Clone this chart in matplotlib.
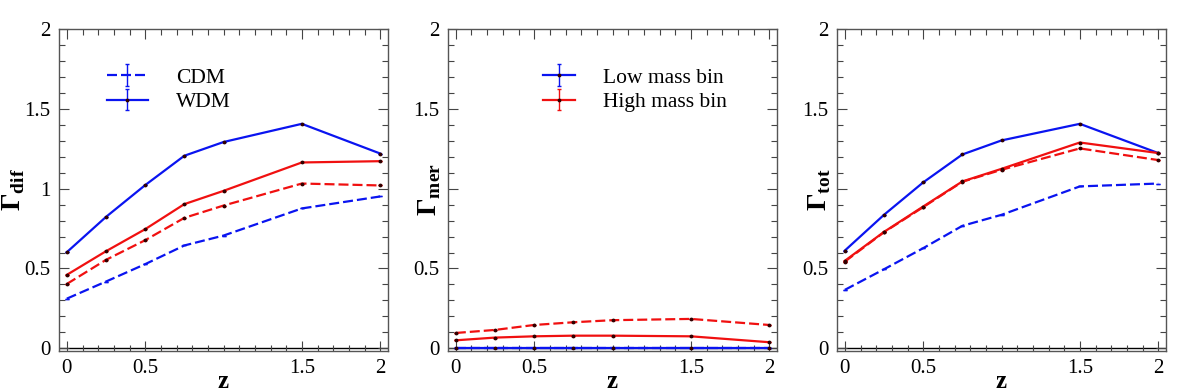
import numpy as np
import matplotlib
matplotlib.use("Agg")
import matplotlib.pyplot as plt
from matplotlib.ticker import MultipleLocator, FixedLocator, FixedFormatter

plt.rcParams['font.family'] = ['Liberation Serif', 'DejaVu Serif']
plt.rcParams['mathtext.fontset'] = 'custom'
plt.rcParams['mathtext.rm'] = 'Liberation Serif'
plt.rcParams['mathtext.bf'] = 'Liberation Serif:bold'

z = [0, 0.25, 0.5, 0.75, 1.0, 1.5, 2.0]

# Gamma_dif
dif_low_cdm = [0.311, 0.418, 0.527, 0.644, 0.706, 0.876, 0.951]
dif_low_wdm = [0.602, 0.823, 1.022, 1.206, 1.292, 1.406, 1.220]
dif_high_cdm = [0.403, 0.554, 0.677, 0.817, 0.894, 1.032, 1.020]
dif_high_wdm = [0.460, 0.608, 0.746, 0.903, 0.986, 1.164, 1.172]

# Gamma_mer
mer_low_cdm = [0.0, 0.0, 0.0, 0.0, 0.0, 0.0, 0.0]
mer_low_wdm = [0.002, 0.002, 0.002, 0.002, 0.002, 0.002, 0.002]
mer_high_cdm = [0.096, 0.115, 0.146, 0.163, 0.176, 0.184, 0.146]
mer_high_wdm = [0.050, 0.067, 0.075, 0.079, 0.079, 0.075, 0.038]

# Gamma_tot
tot_low_cdm = [0.366, 0.495, 0.627, 0.767, 0.836, 1.014, 1.032]
tot_low_wdm = [0.612, 0.836, 1.039, 1.214, 1.302, 1.406, 1.223]
tot_high_cdm = [0.543, 0.727, 0.884, 1.043, 1.118, 1.252, 1.179]
tot_high_wdm = [0.548, 0.729, 0.888, 1.045, 1.124, 1.289, 1.223]

xtick_vals = [0, 0.5, 1.5, 2]
xtick_labels = ['0', '0.5', '1.5', '2']

panels = [
    (r'$\mathbf{\Gamma}_{\mathbf{dif}}$', dif_low_cdm, dif_low_wdm, dif_high_cdm, dif_high_wdm),
    (r'$\mathbf{\Gamma}_{\mathbf{mer}}$', mer_low_cdm, mer_low_wdm, mer_high_cdm, mer_high_wdm),
    (r'$\mathbf{\Gamma}_{\mathbf{tot}}$', tot_low_cdm, tot_low_wdm, tot_high_cdm, tot_high_wdm),
]

fig = plt.figure(figsize=(11.96, 3.92), dpi=100)
lefts = [59, 448, 837]
label_x = [-0.098, -0.014, -0.012]
W, H = 1196.0, 392.0

blue = '#0a14f0'
red = '#f01010'
dashes = (4.5, 1.8)

for i, (ylab, lc, lw_, hc, hw) in enumerate(panels):
    ax = fig.add_axes([lefts[i] / W, 1 - 351 / H, 329 / W, 322 / H])
    ax.axhline(0, color='k', lw=1.0, zorder=1)
    zerr = np.zeros(len(z))
    kw = dict(yerr=zerr, capsize=1.5, elinewidth=1, lw=1.6, marker='.', ms=3.5, mfc='#300000', mec='#300000')
    e1 = ax.errorbar(z, lc, color=blue, dashes=dashes, **dict(kw, marker='None'))
    e2 = ax.errorbar(z, lw_, color=blue, **kw)
    e3 = ax.errorbar(z, hc, color=red, dashes=dashes, **kw)
    e4 = ax.errorbar(z, hw, color=red, **kw)
    for e in (e1, e2, e3, e4):
        for c in e[1]:
            c.set_markeredgewidth(1)

    ax.set_xlim(-0.05, 2.05)
    ax.set_ylim(-0.017, 2.0)
    ax.xaxis.set_major_locator(FixedLocator(xtick_vals))
    ax.xaxis.set_major_formatter(FixedFormatter(xtick_labels))
    ax.xaxis.set_minor_locator(MultipleLocator(0.1))
    ax.set_yticks([0, 0.5, 1, 1.5, 2])
    if i == 0:
        ax.set_yticklabels(['0', '0.5', '1', '1.5', '2'])
    else:
        ax.set_yticklabels(['0', '0.5', '', '1.5', '2'])
    ax.yaxis.set_minor_locator(MultipleLocator(0.1))
    ax.tick_params(which='both', direction='in', top=True, right=True, labelsize=15, pad=6)
    ax.tick_params(which='major', length=7, width=0.8, color='#444444')
    ax.tick_params(which='minor', length=4, width=0.8, color='#444444')
    for s in ax.spines.values():
        s.set_color('#555555')
        s.set_linewidth(1.0)

    ax.set_xlabel(r'$\mathbf{z}$', fontsize=18, labelpad=-5)
    ax.set_ylabel(ylab, fontsize=20)
    ax.yaxis.set_label_coords(label_x[i], 0.5)

    if i == 0:
        leg = ax.legend([e1, e2], ['CDM', 'WDM'], loc='upper left', bbox_to_anchor=(0.146, 0.88),
                        frameon=False, fontsize=15.5, handlelength=1.9, handletextpad=1.3,
                        labelspacing=0.2, borderpad=0, borderaxespad=0)
    elif i == 1:
        leg = ax.legend([e2, e4], ['Low mass bin', 'High mass bin'], loc='upper left',
                        bbox_to_anchor=(0.289, 0.88), frameon=False, fontsize=15.5,
                        handlelength=1.5, handletextpad=1.3, labelspacing=0.2,
                        borderpad=0, borderaxespad=0)

fig.savefig("out.png", dpi=100)
